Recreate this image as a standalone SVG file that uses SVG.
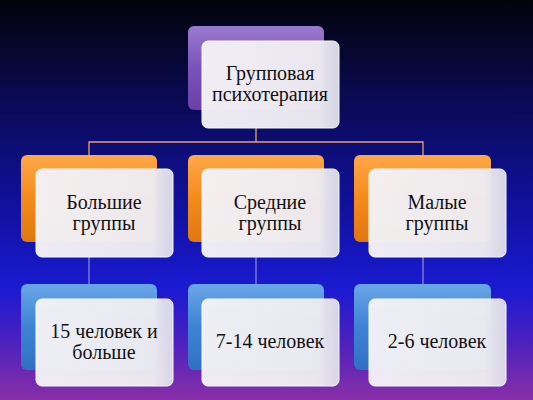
<svg xmlns="http://www.w3.org/2000/svg" width="533" height="400" viewBox="0 0 533 400">
<defs>
<linearGradient id="bg" x1="0" y1="0" x2="0" y2="1">
<stop offset="0" stop-color="#03030a"/>
<stop offset="0.25" stop-color="#0a0a55"/>
<stop offset="0.5" stop-color="#10109a"/>
<stop offset="0.72" stop-color="#1a1ad2"/>
<stop offset="0.85" stop-color="#4a20c0"/>
<stop offset="1" stop-color="#8a2fa8"/>
</linearGradient>
<linearGradient id="gPurple" x1="0" y1="0" x2="0" y2="1">
<stop offset="0" stop-color="#9a7ad0"/>
<stop offset="0.5" stop-color="#7a52b8"/>
<stop offset="1" stop-color="#6a40a8"/>
</linearGradient>
<linearGradient id="gOrange" x1="0" y1="0" x2="0" y2="1">
<stop offset="0" stop-color="#ffa848"/>
<stop offset="0.5" stop-color="#f58a1c"/>
<stop offset="1" stop-color="#e07810"/>
</linearGradient>
<linearGradient id="gBlue" x1="0" y1="0" x2="0" y2="1">
<stop offset="0" stop-color="#6aa6e8"/>
<stop offset="0.5" stop-color="#3f82d4"/>
<stop offset="1" stop-color="#3070c4"/>
</linearGradient>
<linearGradient id="gFront" x1="0" y1="0" x2="1" y2="0">
<stop offset="0" stop-color="#f4f2f6"/>
<stop offset="0.85" stop-color="#eeecf2"/>
<stop offset="1" stop-color="#dcdbe8"/>
</linearGradient>
</defs>
<style>
.back{stroke:none}
.front{fill:url(#gFront);stroke:#ffffff;stroke-width:1;opacity:0.97}
.t{font-family:"Liberation Serif","Times New Roman",serif;font-size:20px;fill:#111111;text-anchor:middle}
.c1{stroke:#e8a070;stroke-width:1.3;fill:none}
.c2{stroke:#9090d8;stroke-width:1.2;fill:none}
</style>
<rect width="533" height="400" fill="url(#bg)"/>
<g id="connectors">
<path class="c1" d="M256,128 V142 M89,155 V142 H423 V155"/>
<path class="c2" d="M89,257 V284 M256,257 V284 M423,257 V284"/>
</g>
<g id="n-root">
<rect class="back" x="188" y="26" width="136" height="84" rx="6" fill="url(#gPurple)"/>
<rect class="front" x="202" y="41" width="137" height="87" rx="6"/>
<text class="t" x="270" y="80">Групповая</text>
<text class="t" x="270" y="101">психотерапия</text>
</g>
<g id="n-big">
<rect class="back" x="21" y="155" width="136" height="87" rx="6" fill="url(#gOrange)"/>
<rect class="front" x="36" y="169" width="137" height="88" rx="6"/>
<text class="t" x="104" y="209">Большие</text>
<text class="t" x="104" y="230">группы</text>
</g>
<g id="n-mid">
<rect class="back" x="188" y="155" width="136" height="87" rx="6" fill="url(#gOrange)"/>
<rect class="front" x="202" y="169" width="137" height="88" rx="6"/>
<text class="t" x="270" y="209">Средние</text>
<text class="t" x="270" y="230">группы</text>
</g>
<g id="n-small">
<rect class="back" x="354" y="155" width="137" height="87" rx="6" fill="url(#gOrange)"/>
<rect class="front" x="369" y="169" width="137" height="88" rx="6"/>
<text class="t" x="437" y="209">Малые</text>
<text class="t" x="437" y="230">группы</text>
</g>
<g id="n-big-count">
<rect class="back" x="21" y="284" width="136" height="86" rx="6" fill="url(#gBlue)"/>
<rect class="front" x="36" y="299" width="137" height="87" rx="6"/>
<text class="t" x="104" y="338">15 человек и</text>
<text class="t" x="104" y="359">больше</text>
</g>
<g id="n-mid-count">
<rect class="back" x="188" y="284" width="136" height="86" rx="6" fill="url(#gBlue)"/>
<rect class="front" x="202" y="299" width="137" height="87" rx="6"/>
<text class="t" x="270" y="348">7-14 человек</text>
</g>
<g id="n-small-count">
<rect class="back" x="354" y="284" width="137" height="86" rx="6" fill="url(#gBlue)"/>
<rect class="front" x="369" y="299" width="137" height="87" rx="6"/>
<text class="t" x="437" y="348">2-6 человек</text>
</g>
</svg>
